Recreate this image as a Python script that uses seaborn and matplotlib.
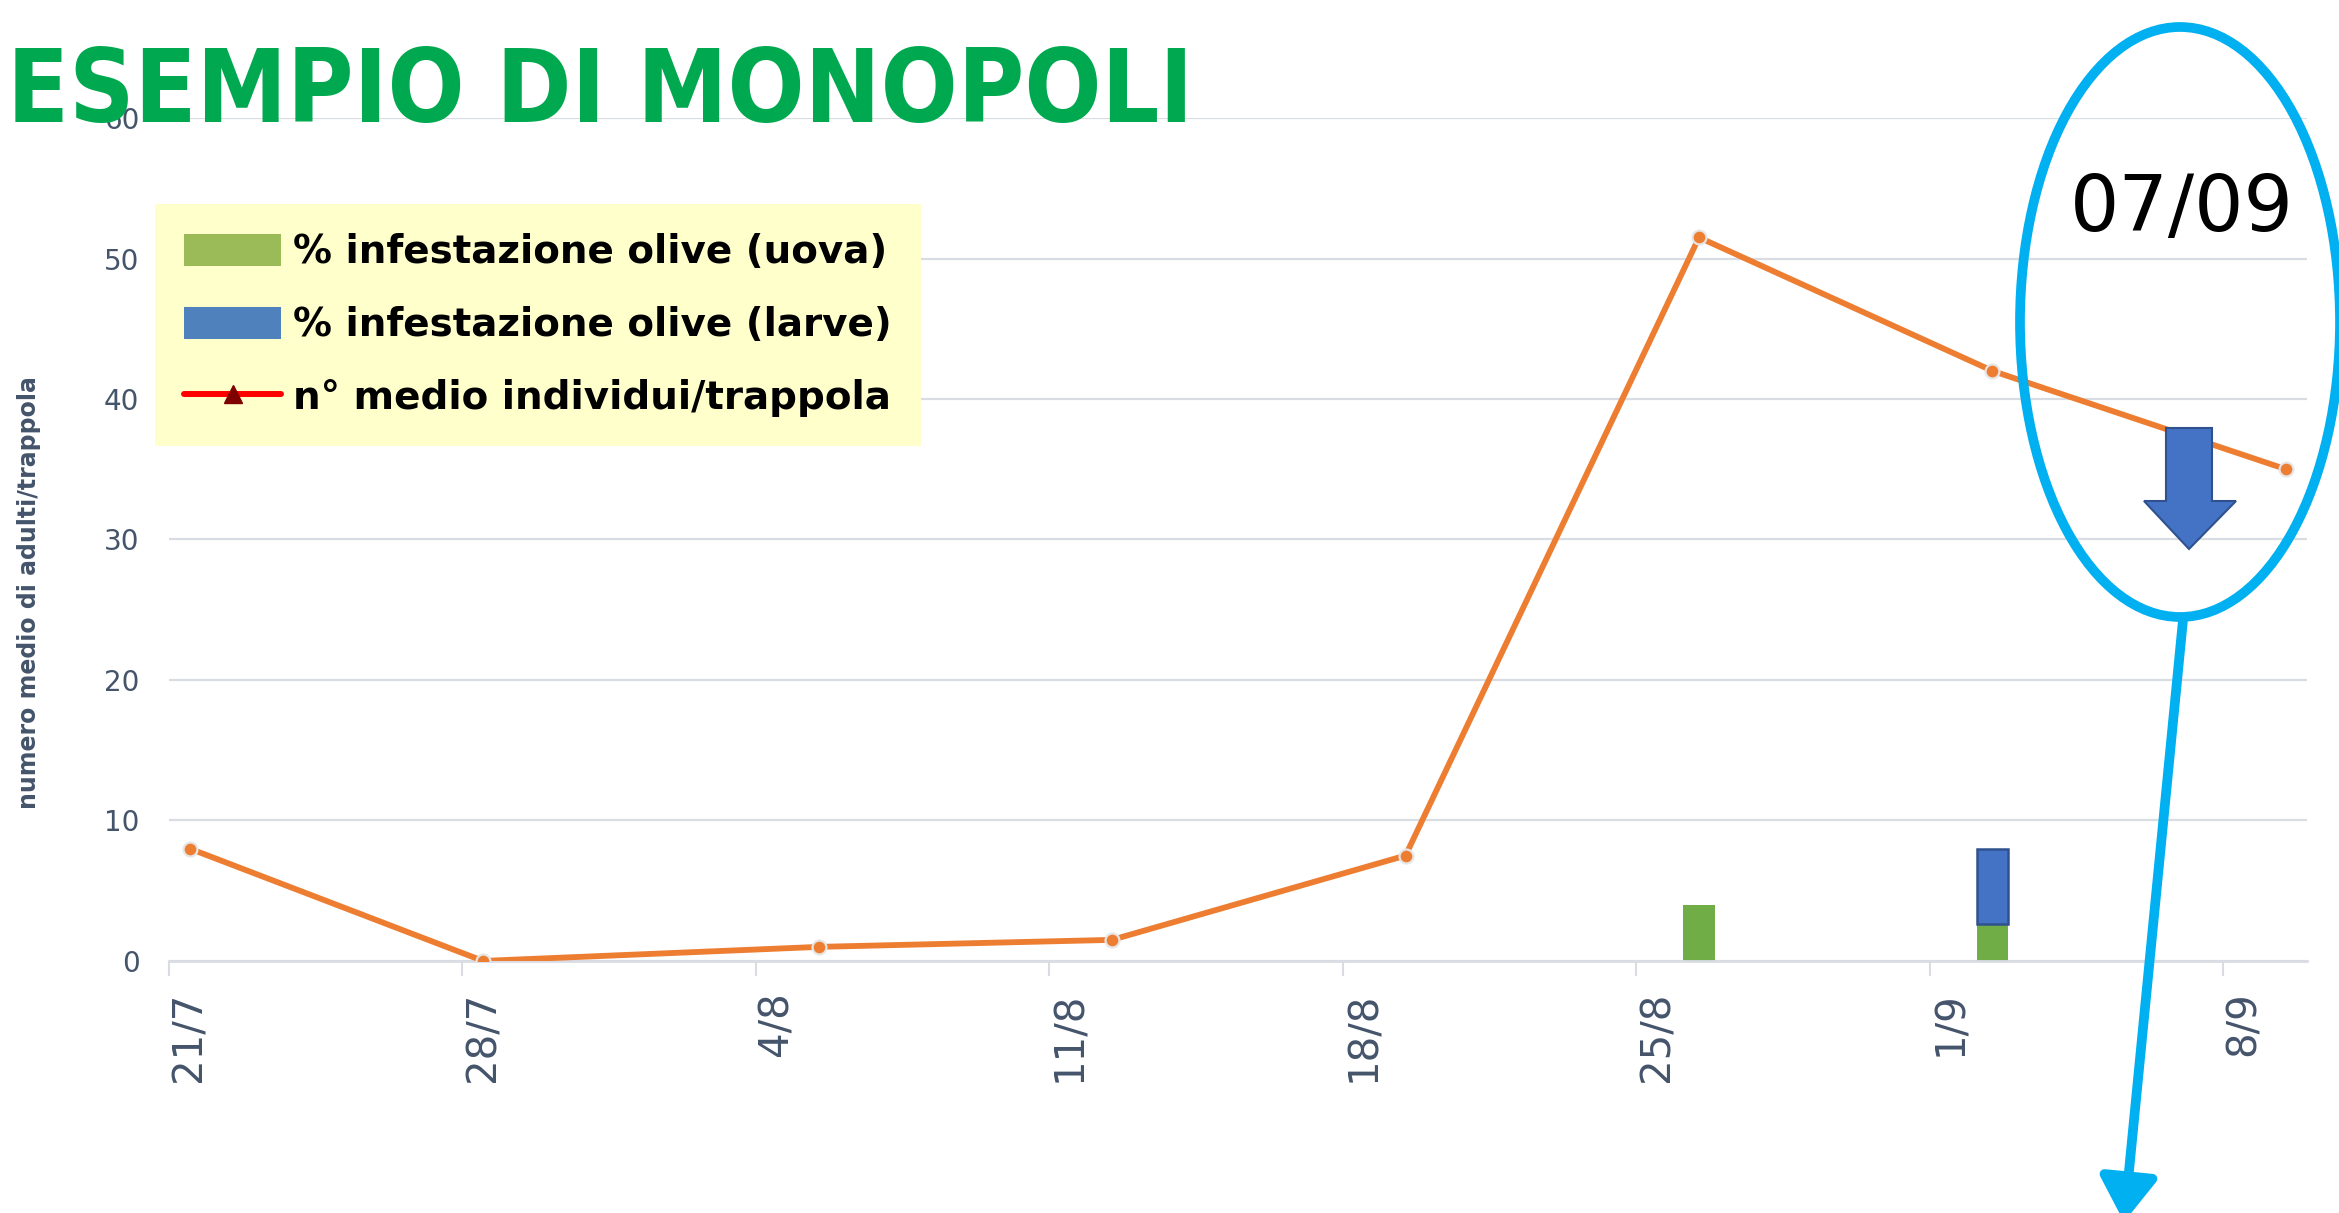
import numpy as np
import pandas as pd
import matplotlib
matplotlib.use("Agg")
import matplotlib.pyplot as plt
import seaborn as sns
from matplotlib.patches import Patch, Ellipse, Polygon, FancyArrowPatch, ArrowStyle
from matplotlib.lines import Line2D
import warnings
warnings.filterwarnings("ignore")

# ---------------- data ----------------
start_date = "21/7"
line_dates = ["21/7", "28/7", "5/8", "12/8", "19/8", "26/8", "2/9", "9/9"]
adults_per_trap = [8, 0, 1, 1.5, 7.5, 51.5, 42, 35]

bar_dates = ["26/8", "2/9"]
infest_uova = [4, 2.6]
infest_larve = [0, 5.4]

tick_labels = ["21/7", "28/7", "4/8", "11/8", "18/8", "25/8", "1/9", "8/9"]
y_ticks = [0, 10, 20, 30, 40, 50, 60]

title_text = "ESEMPIO DI MONOPOLI"
ylabel_text = "numero medio di adulti/trappola"
legend_labels = ["% infestazione olive (uova)",
                 "% infestazione olive (larve)",
                 "n° medio individui/trappola"]
note_text = "07/09"

# ---------------- helpers ----------------
W, H = 2339, 1213


def to_day(s):
    d = pd.to_datetime(s + "/2020", format="%d/%m/%Y")
    d0 = pd.to_datetime(start_date + "/2020", format="%d/%m/%Y")
    return (d - d0).days


def fx(px):
    return px / W


def fy(py):
    return (H - py) / H


# Excel date axis: values sit in the middle of their day
line_x = [to_day(s) + 0.5 for s in line_dates]
bar_x = [to_day(s) + 0.5 for s in bar_dates]
tick_x = [to_day(s) for s in tick_labels]

df_line = pd.DataFrame({"day": line_x, "adulti": adults_per_trap})
df_bar = pd.DataFrame({"day": bar_x, "uova": infest_uova, "larve": infest_larve})

BAR_DAYS = 0.75


def native_width(xs):
    u = np.unique(xs)
    return np.nanmin(np.diff(u)) if len(u) > 1 else 1.0


# ---------------- style ----------------
sns.set_theme(style="white")
plt.rcParams["font.family"] = ["DejaVu Sans"]

TXT = "#44546A"
GRID = "#D9DDE3"
ORANGE = "#ED7D31"
GREEN = "#70AD47"
BLUE = "#4472C4"

fig = plt.figure(figsize=(W / 100, H / 100), dpi=100)
fig.patch.set_facecolor("white")
ax = fig.add_axes([0.0721, 0.2078, 0.9142, 0.6949])
ax.set_facecolor("white")

# bars
sns.barplot(data=df_bar, x="day", y="uova", native_scale=True, orient="x",
            width=BAR_DAYS / native_width(df_bar["day"]), color=GREEN,
            saturation=1, errorbar=None, linewidth=0, ax=ax, zorder=2)
df_l = df_bar[df_bar["larve"] > 0]
sns.barplot(data=df_l, x="day", y="larve", native_scale=True, orient="x",
            width=BAR_DAYS / native_width(df_l["day"]), color=BLUE,
            saturation=1, errorbar=None, linewidth=1.8, edgecolor="#2F528F",
            bottom=df_l["uova"].values, ax=ax, zorder=2)

# line
sns.lineplot(data=df_line, x="day", y="adulti", color=ORANGE, linewidth=4.2,
             marker="o", markersize=10, markeredgecolor="#E6E6E6",
             markeredgewidth=1.6, sort=False, ax=ax, zorder=3)

# axes formatting
ax.set_xlim(0, 51)
ax.set_ylim(0, 60)
ax.set_yticks(y_ticks)
ax.set_yticklabels([str(v) for v in y_ticks], fontsize=20, color=TXT)
ax.yaxis.grid(True, color=GRID, linewidth=1.6)
ax.xaxis.grid(False)
ax.set_axisbelow(True)
ax.tick_params(axis="y", length=0, pad=21)

ax.set_xticks(tick_x)
ax.set_xticklabels([])
ax.tick_params(axis="x", which="major", length=10.8, width=1.5, color=GRID,
               direction="out", bottom=True)
ax.set_xticks([t + 0.5 for t in tick_x], minor=True)
ax.set_xticklabels(tick_labels, minor=True, rotation=90, fontsize=29,
                   color=TXT)
ax.tick_params(axis="x", which="minor", length=0, pad=22)

for s in ["top", "right", "left"]:
    ax.spines[s].set_visible(False)
ax.spines["bottom"].set_color(GRID)
ax.spines["bottom"].set_linewidth(2)

ax.set_xlabel("")
ax.set_ylabel(ylabel_text, fontsize=17, fontweight="bold", color=TXT)
ax.yaxis.set_label_coords(-0.0597, 0.4365)

# legend
handles = [
    Patch(facecolor="#9BBB59", edgecolor="none"),
    Patch(facecolor="#4F81BD", edgecolor="none"),
    Line2D([0], [0], color="red", lw=4.3, marker="^", markersize=13,
           markerfacecolor="#7F0000", markeredgecolor="#7F0000"),
]
leg = ax.legend(handles, legend_labels, loc="upper left",
                bbox_to_anchor=(fx(155), fy(204)), bbox_transform=fig.transFigure,
                borderaxespad=0, frameon=True, fancybox=False,
                facecolor="#FFFFCC", edgecolor="none", framealpha=1,
                prop={"size": 28, "weight": "bold"}, labelcolor="black",
                handlelength=2.5, handleheight=0.9, handletextpad=0.3,
                labelspacing=0.9, borderpad=0.75)
leg.set_zorder(5)

# title (condensed face if available, fitted to the reference width)
title = fig.text(0.003, fy(122), title_text, fontsize=89, fontweight="bold",
                 fontstretch="condensed", color="#00A94F",
                 family=["Liberation Sans Narrow", "DejaVu Sans Condensed",
                         "DejaVu Sans"],
                 va="baseline", ha="left", zorder=6)
renderer = fig.canvas.get_renderer()
tw = title.get_window_extent(renderer).width
title.set_fontsize(89 * 1186.0 / tw)

# annotation: ellipse, date, block arrow, pointer arrow
fig.patches.append(Ellipse((fx(2180), fy(322)), 320 / W, 590 / H,
                           transform=fig.transFigure, fill=False,
                           edgecolor="#00B0F0", linewidth=7, zorder=6))
fig.text(fx(2182), fy(209), note_text, fontsize=56, color="black",
         ha="center", va="center", zorder=7)

arrow_px = [(2166, 428), (2212, 428), (2212, 501), (2236, 501), (2189, 549),
            (2144, 501), (2166, 501)]
fig.patches.append(Polygon([(fx(a), fy(b)) for a, b in arrow_px], closed=True,
                           transform=fig.transFigure, facecolor=BLUE,
                           edgecolor="#2F528F", linewidth=1.5, zorder=7))

fig.patches.append(FancyArrowPatch((fx(2183), fy(620)), (fx(2124), fy(1222)),
                                   transform=fig.transFigure,
                                   arrowstyle=ArrowStyle("-|>", head_length=0.95,
                                                         head_width=0.62),
                                   mutation_scale=28, color="#00B0F0",
                                   linewidth=7, shrinkA=0, shrinkB=0, zorder=6))

fig.savefig("out.png", dpi=100, facecolor="white")
